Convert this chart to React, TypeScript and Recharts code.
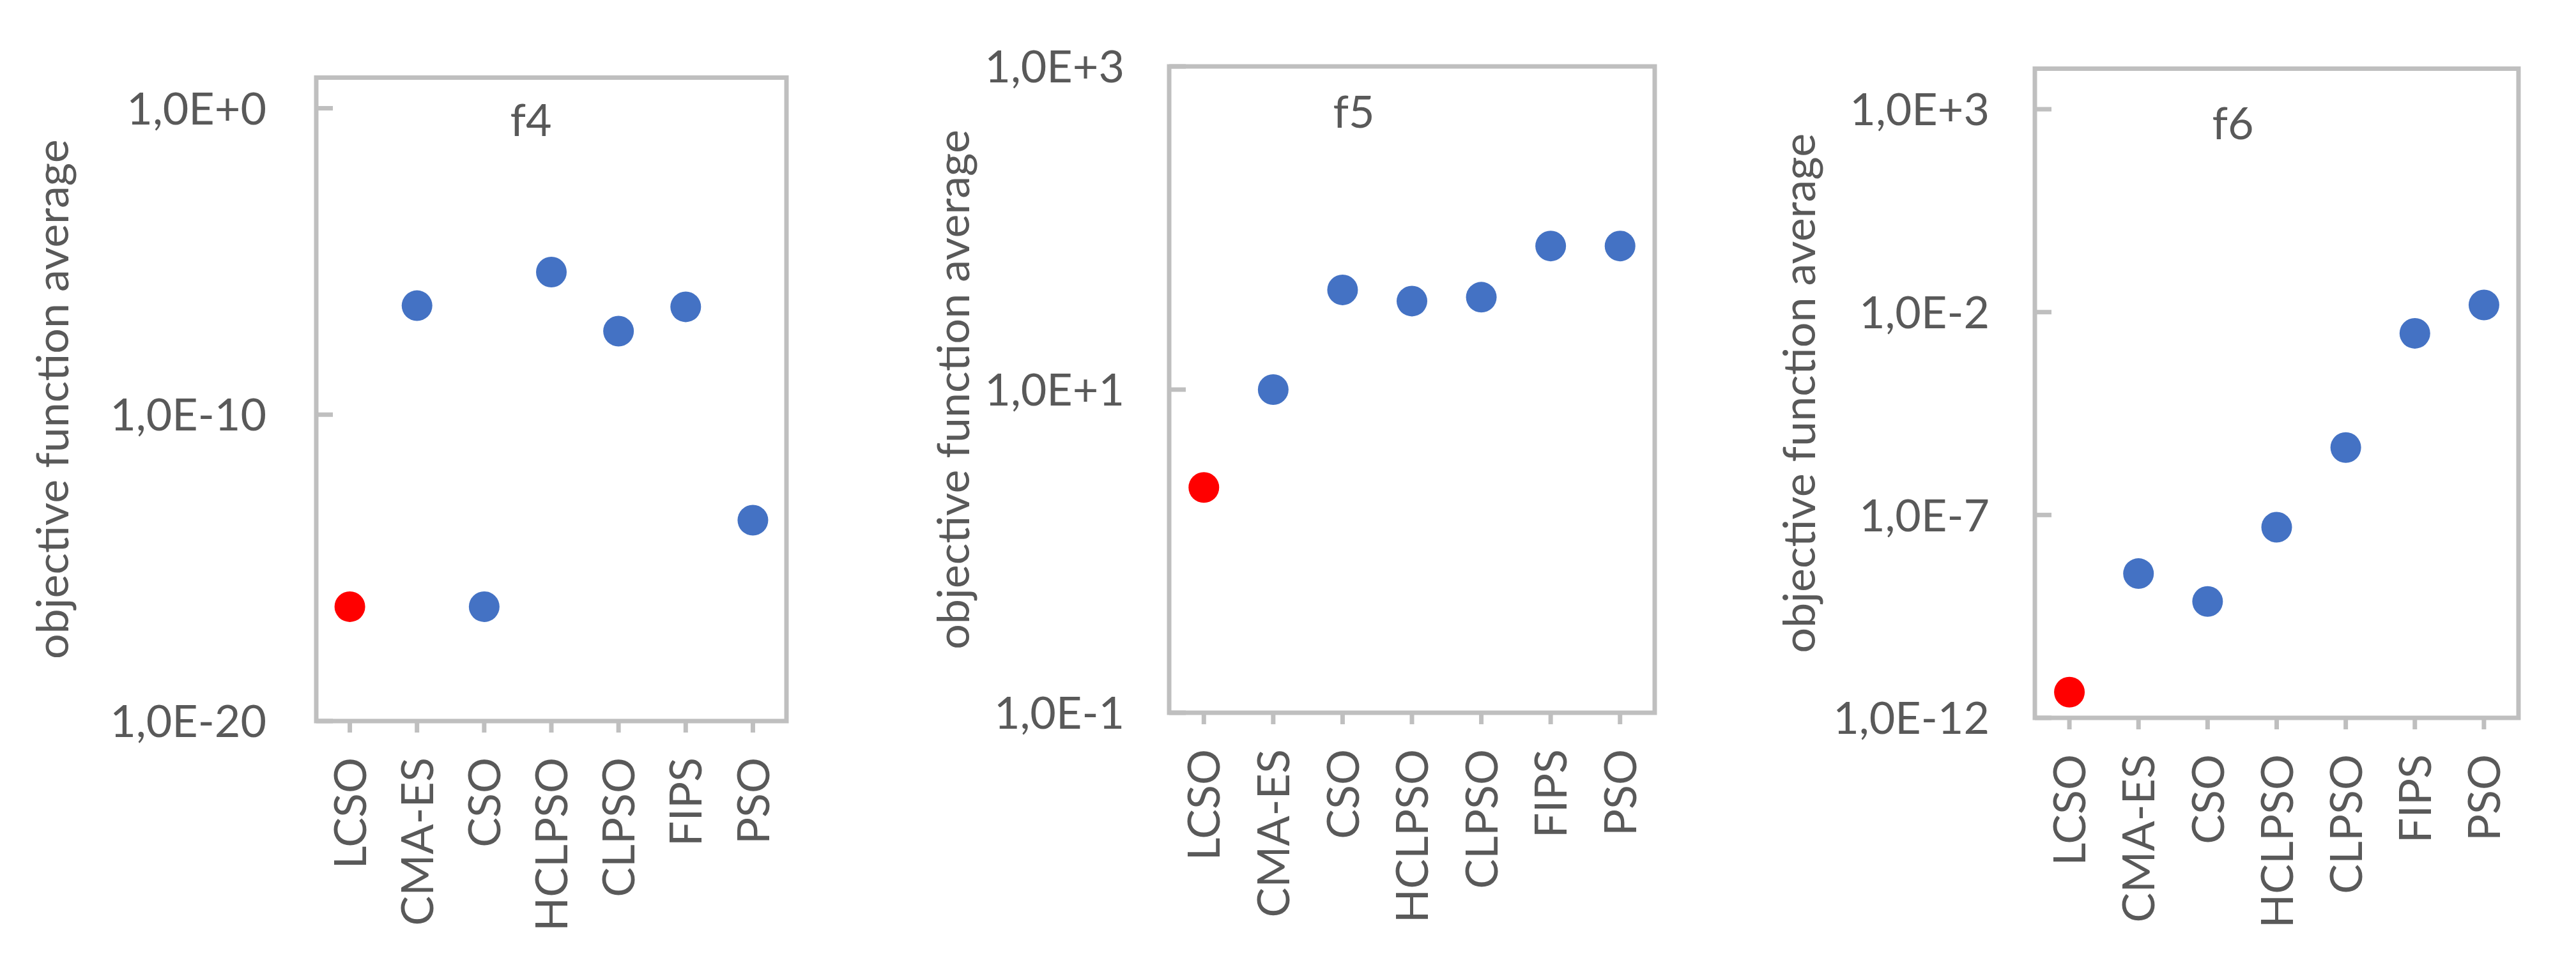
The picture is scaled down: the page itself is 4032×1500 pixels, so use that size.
import React from "react";
import {
  ScatterChart,
  Scatter,
  XAxis,
  YAxis,
  ReferenceArea,
} from "recharts";

const categories = ["LCSO", "CMA-ES", "CSO", "HCLPSO", "CLPSO", "FIPS", "PSO"];
const highlight = "LCSO";

const f4Values = [5.4e-17, 3.6e-7, 5.4e-17, 4.5e-6, 5.3e-8, 3.3e-7, 3.6e-14];
const f5Values = [2.48, 10.0, 41.4, 35.3, 37.3, 77.4, 77.4];
const f6Values = [4.3e-12, 3.6e-9, 7.4e-10, 5.0e-8, 4.6e-6, 3.0e-3, 1.5e-2];

const f4Ticks = [1e-20, 1e-10, 1];
const f5Ticks = [0.1, 10, 1000];
const f6Ticks = [1e-12, 1e-7, 1e-2, 1e3];

const f4Domain = [1e-20, 10];
const f5Domain = [0.1, 1000];
const f6Domain = [1e-12, 1e4];

const yTitle = "objective function average";

const BLUE = "#4472C4";
const RED = "#FF0000";
const FRAME = "#BFBFBF";
const TEXT = "#595959";
const FONT = "Lato, 'Open Sans', sans-serif";
const FS = 70;
const SW = 7;

const fmtExp = (v: number) => {
  const e = Math.round(Math.log10(v));
  return `1,0E${e >= 0 ? "+" : "-"}${Math.abs(e)}`;
};

type PanelProps = {
  title: string;
  values: number[];
  ticks: number[];
  domain: number[];
  left: number;
  width: number;
  boxLeft: number;
  boxRight: number;
  boxTop: number;
  boxBottom: number;
  tickGap: number;
  labelX: number;
  titleDx: number;
  titleDy: number;
};

const Panel = (p: PanelProps) => {
  const rows = categories.map((name, i) => ({ name, value: p.values[i] }));
  const yAxisWidth = p.boxLeft - p.left;
  const rightMargin = p.left + p.width - p.boxRight;

  const YTick = ({ x, y, payload }: any) => (
    <g>
      <line x1={x} x2={x + 26} y1={y} y2={y} stroke={FRAME} strokeWidth={SW} />
      <text
        x={x - p.tickGap}
        y={y}
        dy="0.36em"
        textAnchor="end"
        fill={TEXT}
        fontFamily={FONT}
        fontSize={FS}
      >
        {fmtExp(payload.value)}
      </text>
    </g>
  );

  const XTick = ({ x, y, payload }: any) => (
    <text
      x={x}
      y={y}
      dy="0.36em"
      transform={`rotate(-90 ${x} ${y})`}
      textAnchor="end"
      fill={TEXT}
      fontFamily={FONT}
      fontSize={FS}
    >
      {payload.value}
    </text>
  );

  return (
    <div style={{ position: "absolute", left: p.left, top: 0 }}>
      <ScatterChart
        width={p.width}
        height={1500}
        margin={{ top: p.boxTop, right: rightMargin, bottom: 0, left: 0 }}
      >
        <XAxis
          type="category"
          dataKey="name"
          allowDuplicatedCategory={false}
          height={1500 - p.boxBottom}
          axisLine={false}
          tickLine={{ stroke: FRAME, strokeWidth: SW }}
          tickSize={18}
          tickMargin={39}
          interval={0}
          tick={<XTick />}
        />
        <YAxis
          type="number"
          dataKey="value"
          scale="log"
          domain={p.domain}
          allowDataOverflow
          ticks={p.ticks}
          interval={0}
          width={yAxisWidth}
          axisLine={false}
          tickLine={false}
          tickSize={0}
          tickMargin={0}
          tick={<YTick />}
          label={(lp: any) => {
            const vb = lp.viewBox;
            const cx = vb.x + p.labelX;
            const cy = vb.y + vb.height / 2;
            return (
              <text
                x={cx}
                y={cy}
                transform={`rotate(-90 ${cx} ${cy})`}
                textAnchor="middle"
                fill={TEXT}
                fontFamily={FONT}
                fontSize={FS}
              >
                {yTitle}
              </text>
            );
          }}
        />
        <ReferenceArea
          y1={p.domain[0]}
          y2={p.domain[1]}
          ifOverflow="visible"
          fill="none"
          fillOpacity={0}
          stroke={FRAME}
          strokeWidth={SW}
          label={(lp: any) => {
            const vb = lp.viewBox;
            return (
              <text
                x={vb.x + p.titleDx}
                y={vb.y + p.titleDy}
                textAnchor="middle"
                fill={TEXT}
                fontFamily={FONT}
                fontSize={FS}
              >
                {p.title}
              </text>
            );
          }}
        />
        <Scatter
          data={rows}
          dataKey="value"
          isAnimationActive={false}
          shape={(s: any) => (
            <circle
              cx={s.cx}
              cy={s.cy}
              r={24}
              fill={s.payload.name === highlight ? RED : BLUE}
            />
          )}
        />
      </ScatterChart>
    </div>
  );
};

export default function App() {
  return (
    <div
      style={{
        position: "absolute",
        left: 0,
        top: 0,
        width: 4032,
        height: 1500,
        background: "#ffffff",
        overflow: "hidden",
      }}
    >
      <Panel
        title="f4"
        values={f4Values}
        ticks={f4Ticks}
        domain={f4Domain}
        left={0}
        width={1300}
        boxLeft={495}
        boxRight={1231}
        boxTop={121.5}
        boxBottom={1129}
        tickGap={78}
        labelX={107}
        titleDx={336}
        titleDy={91}
      />
      <Panel
        title="f5"
        values={f5Values}
        ticks={f5Ticks}
        domain={f5Domain}
        left={1300}
        width={1350}
        boxLeft={1830}
        boxRight={2590}
        boxTop={104}
        boxBottom={1116}
        tickGap={70}
        labelX={217}
        titleDx={289}
        titleDy={96}
      />
      <Panel
        title="f6"
        values={f6Values}
        ticks={f6Ticks}
        domain={f6Domain}
        left={2650}
        width={1382}
        boxLeft={3185}
        boxRight={3942}
        boxTop={107.5}
        boxBottom={1124}
        tickGap={71}
        labelX={191}
        titleDx={310}
        titleDy={110}
      />
    </div>
  );
}
